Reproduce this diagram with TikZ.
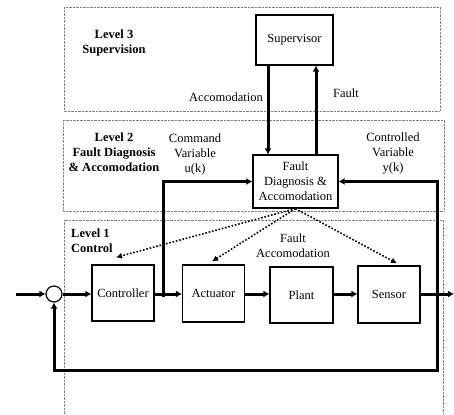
\documentclass[tikz,border=0pt]{standalone}
\usepackage{fontspec}
\setmainfont{Liberation Serif}
\usepackage{tikz}
\usetikzlibrary{arrows.meta}
\newcommand{\lblfont}{\fontsize{12.5}{15}\selectfont}

\begin{document}
\begin{tikzpicture}[
    x=1pt, y=-1pt,
    box/.style={rectangle, draw, line width=1.2pt, align=center, inner sep=1pt, font=\lblfont},
    blockbox/.style={box, minimum width=62pt, minimum height=56pt},
    sumnode/.style={circle, draw, line width=1.2pt, minimum size=16pt, inner sep=0pt},
    note/.style={align=center, inner sep=1pt, font=\lblfont},
    lvl/.style={note, font=\lblfont\bfseries},
    frame/.style={draw=gray, line width=0.7pt, dash pattern=on 0.7pt off 0.7pt},
    arrow/.style={-{Latex[length=6pt,width=7pt]}, line width=3pt},
    dotarrow/.style={-{Latex[length=6pt,width=6pt]}, line width=1.6pt, dash pattern=on 1.6pt off 1.8pt}
]
\useasboundingbox (0,0) rectangle (454,414);

\draw[frame] (64,7) rectangle (440,111);
\draw[frame] (63,120) rectangle (444,211);
\draw[frame] (64,414) -- (64,220) -- (443,220) -- (443,414);

\node[lvl] (l3) at (114,43) {Level 3\\Supervision};
\node[lvl] (l2) at (114,152) {Level 2\\Fault Diagnosis\\\& Accomodation};
\node[lvl, align=left, anchor=west] (l1) at (70,241) {Level 1\\Control};

\node[box, minimum width=77pt, minimum height=50pt] (sup) at (294.5,40) {Supervisor};
\node[box, minimum width=85pt, minimum height=53pt] (fda) at (295.5,181.5) {Fault\\Diagnosis \&\\Accomodation};

\node[sumnode] (sum) at (54,294) {};
\node[blockbox] (ctrl) at (123,293) {Controller};
\node[blockbox, minimum height=57pt] (act) at (213.5,293.5) {Actuator};
\node[blockbox, minimum width=63pt] (plant) at (301.5,295) {Plant};
\node[blockbox, minimum height=57pt] (sens) at (389,294.5) {Sensor};

\node[note] (cmd) at (195,154) {Command\\Variable\\u(k)};
\node[note] (ctl) at (393,154) {Controlled\\Variable\\y(k)};
\node[note] (fac) at (293,246) {Fault\\Accomodation};
\node[note, anchor=east] (accl) at (264,97) {Accomodation};
\node[note] (fltl) at (346,93) {Fault};

\coordinate (in) at (16,294);
\coordinate (utap) at (163,297);
\coordinate (ytap) at (437,294);
\coordinate (out) at (454,294);
\coordinate (fb) at (437,370);
\coordinate (acc) at (268,0);
\coordinate (flt) at (316,0);

\draw[arrow] (in) -- (sum);
\draw[arrow] (sum) -- (sum -| ctrl.west);
\draw[arrow] (sum -| ctrl.east) -- (sum -| act.west);
\draw[arrow] (sum -| act.east) -- (sum -| plant.west);
\draw[arrow] (sum -| plant.east) -- (sum -| sens.west);
\draw[arrow] (sum -| sens.east) -- (out);

\draw[arrow] (utap) |- (fda);
\draw[arrow] (ytap) |- (fda);
\draw[arrow] (ytap) -- (fb) -| (sum);

\draw[arrow] (sup.south -| acc) -- (fda.north -| acc);
\draw[arrow] (fda.north -| flt) -- (sup.south -| flt);

\draw[dotarrow] (fda.south) -- ([xshift=-7pt,yshift=7pt]ctrl.north);
\draw[dotarrow] (fda.south) -- ([xshift=-1.5pt,yshift=3pt]act.north);
\draw[dotarrow] (fda.south) -- ([xshift=8pt,yshift=2pt]sens.north);
\end{tikzpicture}
\end{document}
